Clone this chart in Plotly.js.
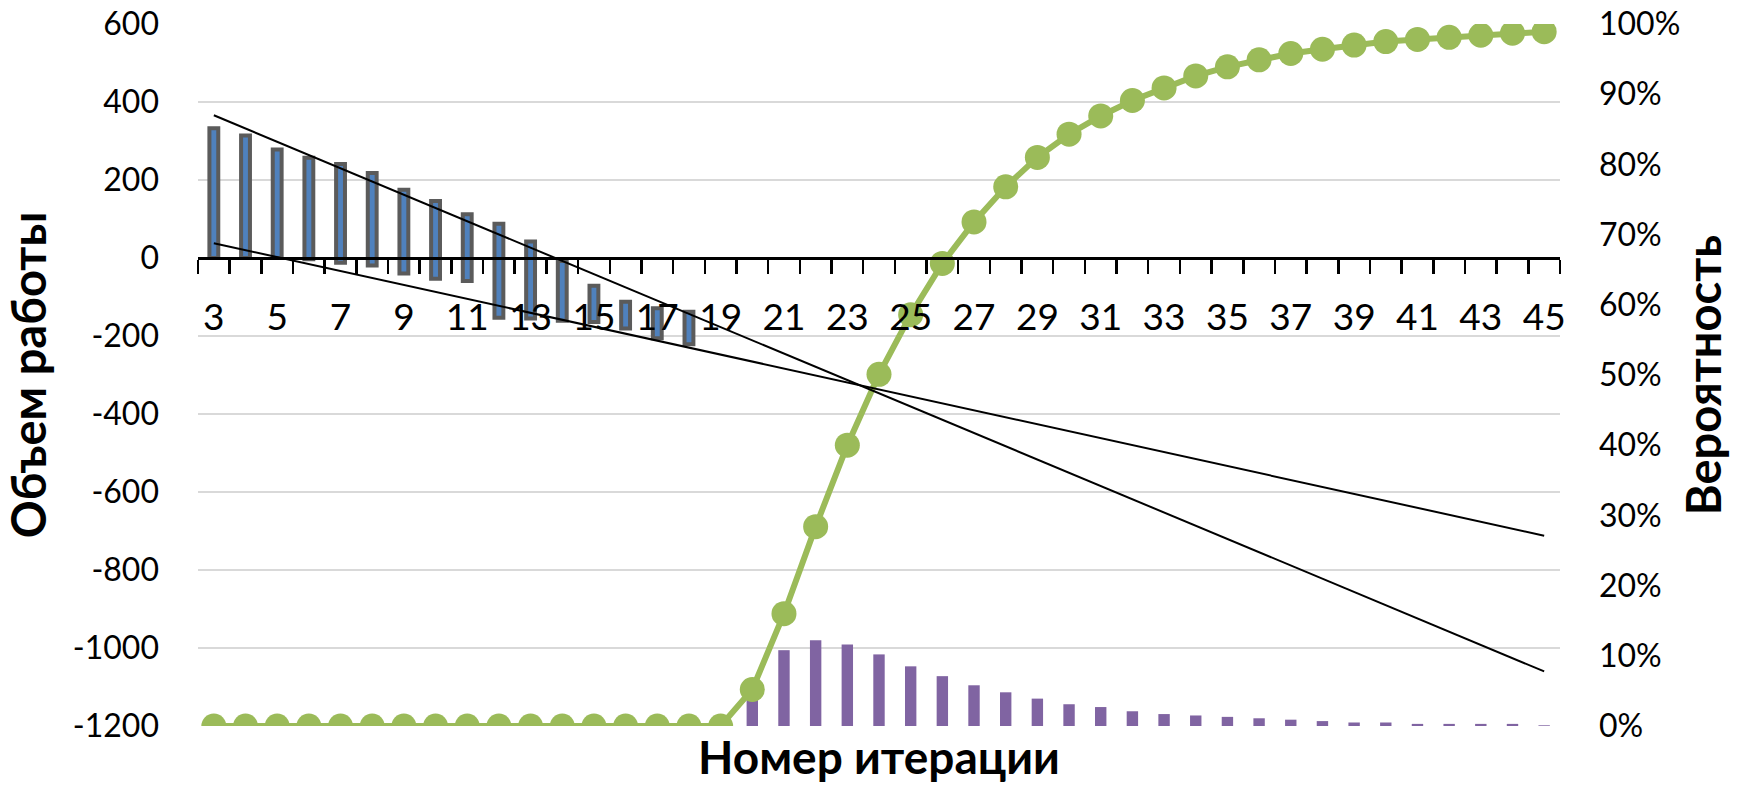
<!DOCTYPE html>
<html>
<head>
<meta charset="utf-8">
<script src="https://cdn.plot.ly/plotly-3.0.1.min.js"></script>
<style>
html,body{margin:0;padding:0;background:#fff;}
#chart{width:1738px;height:788px;}
</style>
</head>
<body>
<div id="chart"></div>
<script>
// ---- data ----
const iterations = [3,4,5,6,7,8,9,10,11,12,13,14,15,16,17,18,19,20,21,22,23,24,25,26,27,28,29,30,31,32,33,34,35,36,37,38,39,40,41,42,43,44,45];

// probability (cumulative), right axis
const probability = [0,0,0,0,0,0,0,0,0,0,0,0,0,0,0,0,0,
  0.052,0.160,0.284,0.400,0.501,0.586,0.659,0.718,0.768,0.810,0.843,0.869,0.891,0.909,0.926,0.939,0.949,0.958,0.964,0.970,0.975,0.978,0.981,0.984,0.987,0.989];

// probability per iteration (purple bars), right axis
const probabilityStep = [0,0,0,0,0,0,0,0,0,0,0,0,0,0,0,0,0,
  0.052,0.108,0.122,0.116,0.102,0.085,0.071,0.058,0.048,0.039,0.031,0.027,0.021,0.017,0.015,0.013,0.011,0.009,0.007,0.005,0.005,0.003,0.003,0.003,0.003,0.001];

// work volume ranges (blue floating bars), left axis
const rangeIterations = [3,4,5,6,7,8,9,10,11,12,13,14,15,16,17,18];
const rangeHigh = [333,314,278,257,241,218,175,146,112,88,42,-8,-71,-112,-129,-138];
const rangeLow  = [0,0,0,-3,-12,-19,-40,-53,-59,-153,-155,-161,-164,-181,-206,-221];

// trend lines, left axis
const trendIterations = [3,45];
const upperTrend = [366,-1060];
const lowerTrend = [38,-712];

// tick labels
const xTickLabels = [3,5,7,9,11,13,15,17,19,21,23,25,27,29,31,33,35,37,39,41,43,45];
const leftTicks = [-1200,-1000,-800,-600,-400,-200,0,200,400,600];
const rightTicks = [0,0.1,0.2,0.3,0.4,0.5,0.6,0.7,0.8,0.9,1.0];
const rightTickText = ['0%','10%','20%','30%','40%','50%','60%','70%','80%','90%','100%'];

const FONT = 'Lato, "Open Sans", "Noto Sans", sans-serif';

const traces = [
  {
    type:'bar', x: iterations, y: probabilityStep, yaxis:'y', xaxis:'x',
    width: 0.36, marker:{color:'#8064A2', line:{width:0}},
    name:'Вероятность итерации'
  },
  {
    type:'scatter', mode:'lines+markers', x: iterations, y: probability, yaxis:'y', xaxis:'x',
    line:{color:'#9BBB59', width:6},
    marker:{color:'#9BBB59', size:25},
    name:'Вероятность'
  },
  {
    type:'bar', x: rangeIterations,
    base: rangeLow,
    y: rangeHigh.map((h,i)=>h-rangeLow[i]),
    yaxis:'y2', xaxis:'x',
    width: 0.28,
    marker:{color:'#4F81BD', line:{color:'#5B5B5B', width:4}},
    name:'Объем работы'
  },
  {
    type:'scatter', mode:'lines', x: trendIterations, y: upperTrend, yaxis:'y2', xaxis:'x',
    line:{color:'#000', width:2}, name:'Тренд (макс.)'
  },
  {
    type:'scatter', mode:'lines', x: trendIterations, y: lowerTrend, yaxis:'y2', xaxis:'x',
    line:{color:'#000', width:2}, name:'Тренд (мин.)'
  }
];

const layout = {
  width:1738, height:788,
  margin:{l:198, r:178, t:24, b:62, pad:0},
  paper_bgcolor:'#fff', plot_bgcolor:'rgba(0,0,0,0)',
  showlegend:false,
  barmode:'overlay',
  font:{family:FONT, color:'#000'},
  xaxis:{
    range:[2.5,45.5],
    anchor:'free', position: 1200/1800,
    showline:true, linecolor:'#000', linewidth:2.5,
    showgrid:false, zeroline:false,
    tickmode:'array', tickvals: xTickLabels, ticktext: xTickLabels.map(String),
    ticks:'', ticklabelstandoff: 26,
    tickfont:{size:37, family:FONT, color:'#000'},
    minor:{tickmode:'linear', tick0:2.5, dtick:1, ticks:'outside', ticklen:14, tickwidth:2.5, tickcolor:'#000', showgrid:false}
  },
  yaxis:{
    side:'right',
    range:[0,1],
    tickmode:'array', tickvals: rightTicks, ticktext: rightTickText,
    showgrid:false, zeroline:false, showline:false,
    ticks:'', ticklabelstandoff: 38,
    tickfont:{size:32, family:FONT, color:'#000'},
    title:{text:'Вероятность', font:{size:47, family:FONT, weight:700, color:'#000'}, standoff:8}
  },
  yaxis2:{
    overlaying:'y', side:'left',
    range:[-1200,600],
    tickmode:'array', tickvals: leftTicks, ticktext: leftTicks.map(String),
    showgrid:true, gridcolor:'#D9D9D9', gridwidth:1.3,
    zeroline:false, showline:false,
    ticks:'', ticklabelstandoff: 38,
    tickfont:{size:32, family:FONT, color:'#000'},
    title:{text:'Объем работы', font:{size:47, family:FONT, weight:700, color:'#000'}, standoff:12}
  },
  annotations:[
    {text:'Номер итерации', xref:'paper', yref:'paper', x:0.5, y:-0.044, xanchor:'center', yanchor:'middle',
     showarrow:false, font:{size:46, family:FONT, weight:700, color:'#000'}}
  ]
};

Plotly.newPlot('chart', traces, layout, {displayModeBar:false, staticPlot:true});
</script>
</body>
</html>
